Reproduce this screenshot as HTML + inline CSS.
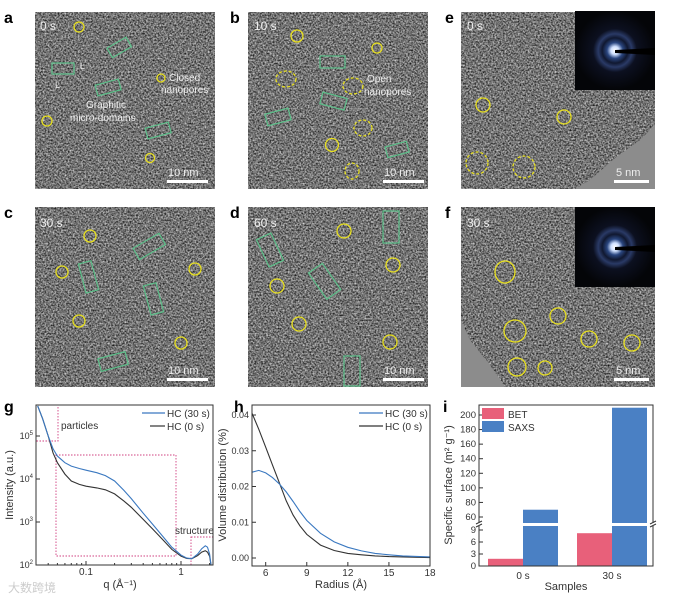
<!DOCTYPE html>
<html><head><meta charset="utf-8">
<style>
html,body{margin:0;padding:0;background:#fff;}
svg{display:block;font-family:"Liberation Sans",sans-serif;}
</style></head>
<body>
<svg id="fig" width="674" height="598" viewBox="0 0 674 598" xmlns="http://www.w3.org/2000/svg">
<defs>
<filter id="tem" x="0" y="0" width="100%" height="100%" color-interpolation-filters="sRGB">
<feTurbulence type="fractalNoise" baseFrequency="0.6" numOctaves="2" seed="7" result="n"/>
<feColorMatrix in="n" type="matrix" values="1.1 0 0 0 -0.1  1.1 0 0 0 -0.1  1.1 0 0 0 -0.1  0 0 0 0 1"/>
</filter>
<radialGradient id="diff" cx="50%" cy="50%" r="50%">
<stop offset="0" stop-color="#fff"/><stop offset="0.1" stop-color="#cfe0ff"/>
<stop offset="0.2" stop-color="#2a4680"/><stop offset="0.32" stop-color="#101830"/>
<stop offset="0.42" stop-color="#2a3a66"/><stop offset="0.55" stop-color="#0c1020"/><stop offset="1" stop-color="#040508"/>
</radialGradient>
</defs>

<!-- TEM panels -->
<g>
<text x="4" y="23" font-size="16" font-weight="bold">a</text>
<rect x="35" y="12" width="180" height="177" fill="#777" filter="url(#tem)"/>
<text x="40" y="30" font-size="12" fill="#eee">0 s</text>
<g fill="none" stroke="#e8e020" stroke-width="1.3">
<circle cx="79" cy="27" r="5"/><circle cx="47" cy="121" r="5"/><circle cx="150" cy="158" r="4.5"/><circle cx="161" cy="78" r="4"/></g>
<g fill="none" stroke="#5cc08a" stroke-width="1.2">
<rect x="108" y="42" width="22" height="11" transform="rotate(-30 119 47)"/>
<rect x="52" y="63" width="22" height="11"/>
<rect x="96" y="82" width="24" height="11" transform="rotate(-15 108 87)"/>
<rect x="146" y="125" width="24" height="11" transform="rotate(-15 158 130)"/></g>
<text x="86" y="108" font-size="10" fill="#eee">Graphitic</text>
<text x="70" y="121" font-size="10" fill="#eee">micro-domains</text>
<text x="169" y="81" font-size="10" fill="#eee">Closed</text>
<text x="161" y="93" font-size="10" fill="#eee">nanopores</text>
<text x="80" y="69" font-size="9" fill="#eee">L</text><text x="55" y="88" font-size="9" fill="#eee">L</text>
<text x="168" y="176" font-size="11" fill="#eee">10 nm</text>
<rect x="167" y="180" width="41" height="3" fill="#fff"/>
</g>
<g>
<text x="230" y="23" font-size="16" font-weight="bold">b</text>
<rect x="248" y="12" width="180" height="177" fill="#777" filter="url(#tem)"/>
<text x="254" y="30" font-size="12" fill="#eee">10 s</text>
<g fill="none" stroke="#e8e020" stroke-width="1.3">
<circle cx="297" cy="36" r="6"/><circle cx="377" cy="48" r="5"/><circle cx="332" cy="145" r="6.5"/></g>
<g fill="none" stroke="#e8e020" stroke-width="1.3" stroke-dasharray="3 2">
<ellipse cx="286" cy="79" rx="10" ry="8"/><ellipse cx="353" cy="86" rx="10" ry="8"/><ellipse cx="363" cy="128" rx="9" ry="8"/><ellipse cx="352" cy="171" rx="7" ry="8"/></g>
<g fill="none" stroke="#5cc08a" stroke-width="1.2">
<rect x="320" y="56" width="25" height="12"/><rect x="321" y="95" width="25" height="12" transform="rotate(15 333 101)"/>
<rect x="266" y="111" width="24" height="12" transform="rotate(-15 278 117)"/><rect x="386" y="144" width="22" height="11" transform="rotate(-15 397 149)"/></g>
<text x="367" y="82" font-size="10" fill="#eee">Open</text>
<text x="364" y="95" font-size="10" fill="#eee">nanopores</text>
<text x="384" y="176" font-size="11" fill="#eee">10 nm</text>
<rect x="383" y="180" width="41" height="3" fill="#fff"/>
</g>
<g>
<text x="445" y="23" font-size="16" font-weight="bold">e</text>
<rect x="461" y="12" width="194" height="177" fill="#777" filter="url(#tem)"/>
<path d="M655 125 L640 140 L615 158 L590 180 L575 189 L655 189 Z" fill="#8c8c8c"/>
<text x="467" y="30" font-size="12" fill="#eee">0 s</text>
<rect x="575" y="11" width="80" height="79" fill="url(#diff)"/>
<path d="M615 50 L655 48 L655 55 L615 53 Z" fill="#000"/>
<g fill="none" stroke="#e8e020" stroke-width="1.3">
<circle cx="483" cy="105" r="7"/><circle cx="564" cy="117" r="7"/></g>
<g fill="none" stroke="#e8e020" stroke-width="1.3" stroke-dasharray="3 2">
<circle cx="477" cy="163" r="11"/><circle cx="524" cy="167" r="11"/></g>
<text x="616" y="176" font-size="11" fill="#eee">5 nm</text>
<rect x="614" y="180" width="35" height="3" fill="#fff"/>
</g>
<g>
<text x="4" y="218" font-size="16" font-weight="bold">c</text>
<rect x="35" y="207" width="180" height="180" fill="#777" filter="url(#tem)"/>
<text x="40" y="227" font-size="12" fill="#eee">30 s</text>
<g fill="none" stroke="#e8e020" stroke-width="1.3">
<circle cx="90" cy="236" r="6"/><circle cx="62" cy="272" r="6"/><circle cx="195" cy="269" r="6"/><circle cx="79" cy="321" r="6"/><circle cx="181" cy="343" r="6"/></g>
<g fill="none" stroke="#5cc08a" stroke-width="1.2">
<rect x="134" y="240" width="30" height="13" transform="rotate(-30 149 246)"/>
<rect x="82" y="262" width="13" height="30" transform="rotate(-15 88 277)"/>
<rect x="147" y="284" width="13" height="30" transform="rotate(-15 153 299)"/>
<rect x="99" y="355" width="28" height="13" transform="rotate(-15 113 361)"/></g>
<text x="168" y="374" font-size="11" fill="#eee">10 nm</text>
<rect x="167" y="378" width="41" height="3" fill="#fff"/>
</g>
<g>
<text x="230" y="218" font-size="16" font-weight="bold">d</text>
<rect x="248" y="207" width="180" height="180" fill="#777" filter="url(#tem)"/>
<text x="254" y="227" font-size="12" fill="#eee">60 s</text>
<g fill="none" stroke="#e8e020" stroke-width="1.3">
<circle cx="344" cy="231" r="7"/><circle cx="393" cy="265" r="7"/><circle cx="277" cy="286" r="7"/><circle cx="299" cy="324" r="7"/><circle cx="390" cy="342" r="7"/></g>
<g fill="none" stroke="#5cc08a" stroke-width="1.2">
<rect x="262" y="235" width="16" height="30" transform="rotate(-25 270 250)"/>
<rect x="383" y="211" width="16" height="32"/>
<rect x="316" y="265" width="17" height="32" transform="rotate(-35 325 281)"/>
<rect x="344" y="356" width="16" height="30"/></g>
<text x="384" y="374" font-size="11" fill="#eee">10 nm</text>
<rect x="383" y="378" width="41" height="3" fill="#fff"/>
</g>
<g>
<text x="445" y="218" font-size="16" font-weight="bold">f</text>
<rect x="461" y="207" width="194" height="180" fill="#777" filter="url(#tem)"/>
<path d="M461 320 L470 340 L490 365 L505 387 L461 387 Z" fill="#8c8c8c"/>
<text x="467" y="227" font-size="12" fill="#eee">30 s</text>
<rect x="575" y="207" width="80" height="80" fill="url(#diff)"/>
<path d="M615 247 L655 245 L655 252 L615 250 Z" fill="#000"/>
<g fill="none" stroke="#e8e020" stroke-width="1.3">
<ellipse cx="505" cy="272" rx="10" ry="11"/><circle cx="558" cy="316" r="8"/><circle cx="515" cy="331" r="11"/><circle cx="589" cy="339" r="8"/><circle cx="632" cy="343" r="8"/><circle cx="517" cy="367" r="9"/><circle cx="545" cy="368" r="7"/></g>
<text x="616" y="374" font-size="11" fill="#eee">5 nm</text>
<rect x="614" y="378" width="35" height="3" fill="#fff"/>
</g>

<g id="chartG"><text x="4" y="412" font-size="16" font-weight="bold">g</text></g>
<g id="chartH"><text x="234" y="412" font-size="16" font-weight="bold">h</text></g>
<g id="chartI"><text x="443" y="412" font-size="16" font-weight="bold">i</text></g>
<text x="8" y="592" font-size="12" fill="#ccc">大数跨境</text>
</svg>
<script>
// ---- chart g data ----
const gQ = [0.031,0.035,0.04,0.045,0.05,0.06,0.07,0.085,0.1,0.13,0.16,0.2,0.25,0.3,0.4,0.5,0.65,0.8,1.0,1.15,1.3,1.5,1.65,1.8,1.9,2.0,2.07];
const gHC30 = [5e5,2.5e5,1e5,5e4,3.4e4,2.4e4,2e4,1.75e4,1.6e4,1.4e4,1.2e4,9e3,5.5e3,3.5e3,1.6e3,900,450,260,170,145,140,180,240,280,260,180,100];
const gHC0 = [5e5,2.5e5,1e5,4e4,2.4e4,1.3e4,9e3,7.5e3,6.8e3,6.2e3,5.6e3,4.5e3,3.1e3,2.2e3,1.15e3,700,380,230,160,142,140,165,200,215,200,160,100];
const gYTicks = [2,3,4,5];
// ---- chart h data ----
const hR = [5,5.5,6,6.5,7,7.5,8,8.5,9,10,11,12,13,14,15,16,18];
const hHC30 = [0.024,0.0245,0.0238,0.0225,0.0207,0.0185,0.0158,0.013,0.0105,0.0069,0.0045,0.003,0.002,0.0013,0.0009,0.0006,0.0003];
const hHC0 = [0.0405,0.036,0.031,0.026,0.021,0.016,0.012,0.009,0.0066,0.0036,0.0021,0.0013,0.0009,0.0006,0.0004,0.0003,0.0001];
const hXTicks = [6,9,12,15,18];
const hYTicks = [0,0.01,0.02,0.03,0.04];
// ---- chart i data ----
const iSamples = ["0 s","30 s"];
const iBET = [1.8,8.2];
const iSAXS = [70,210];
const iLowTicks = [0,3,6,9];
const iHighTicks = [60,80,100,120,140,160,180,200];

const NS="http://www.w3.org/2000/svg";
function mk(parent,tag,attrs,txt){const e=document.createElementNS(NS,tag);for(const k in attrs)e.setAttribute(k,attrs[k]);if(txt!==undefined)e.textContent=txt;parent.appendChild(e);return e;}
function poly(xs,ys,fx,fy){return xs.map((x,i)=>(i?'L':'M')+fx(x).toFixed(1)+' '+fy(ys[i]).toFixed(1)).join(' ');}

// ---- g ----
(function(){
 const G=document.getElementById('chartG');
 const L=36,R=213,T=405,B=565;
 const x=q=>181+95*Math.log10(q);
 const y=v=>565-43*(Math.log10(v)-2);
 const clip=mk(G,'clipPath',{id:'gclip'});mk(clip,'rect',{x:L,y:T,width:R-L,height:B-T});
 let e;
 e=mk(G,'rect',{x:36,y:405,width:22,height:36,fill:'none',stroke:'#d04080','stroke-dasharray':'1.5 1.5','stroke-width':0.9});
 
 e=mk(G,'rect',{x:56,y:455,width:120,height:101,fill:'none',stroke:'#d04080','stroke-dasharray':'1.5 1.5','stroke-width':0.9});
 
 e=mk(G,'rect',{x:191,y:537,width:22,height:28,fill:'none',stroke:'#d04080','stroke-dasharray':'1.5 1.5','stroke-width':0.9});
 
 e=mk(G,'path',{d:poly(gQ,gHC0,x,y),fill:'none',stroke:'#333','stroke-width':1.1,'clip-path':'url(#gclip)'});
 
 e=mk(G,'path',{d:poly(gQ,gHC30,x,y),fill:'none',stroke:'#3a78c0','stroke-width':1.1,'clip-path':'url(#gclip)'});
 
 mk(G,'rect',{x:L,y:T,width:R-L,height:B-T,fill:'none',stroke:'#333','stroke-width':1});
 gYTicks.forEach(p=>{const yy=y(Math.pow(10,p));mk(G,'line',{x1:L,x2:L+4,y1:yy,y2:yy,stroke:'#333'});
  const t=mk(G,'text',{x:L-3,y:yy+3,'font-size':9,'text-anchor':'end',fill:'#333'});
  
  t.textContent='10';mk(t,'tspan',{'font-size':6,dy:-4},String(p));});
 [0.1,1].forEach(q=>{mk(G,'line',{x1:x(q),x2:x(q),y1:B,y2:B-4,stroke:'#333'});
  const t=mk(G,'text',{x:x(q),y:B+10,'font-size':10,'text-anchor':'middle',fill:'#333'},String(q));
  });
 [0.04,0.05,0.06,0.07,0.08,0.09,0.2,0.3,0.4,0.5,0.6,0.7,0.8,0.9,2].forEach(q=>mk(G,'line',{x1:x(q),x2:x(q),y1:B,y2:B-2,stroke:'#333'}));
 e=mk(G,'text',{x:120,y:588,'font-size':11,'text-anchor':'middle',fill:'#333'},'q (Å⁻¹)');
 
 e=mk(G,'text',{x:13,y:485,'font-size':11,'text-anchor':'middle',fill:'#333',transform:'rotate(-90 13 485)'},'Intensity (a.u.)');
 
 mk(G,'text',{x:61,y:429,'font-size':10,fill:'#333'},'particles');
 mk(G,'text',{x:175,y:534,'font-size':10,fill:'#333'},'structure');
 mk(G,'line',{x1:142,x2:165,y1:413,y2:413,stroke:'#3a78c0','stroke-width':1.2});
 e=mk(G,'text',{x:167,y:417,'font-size':10,fill:'#333'},'HC (30 s)');
 mk(G,'line',{x1:150,x2:165,y1:426,y2:426,stroke:'#333','stroke-width':1.2});
 e=mk(G,'text',{x:167,y:430,'font-size':10,fill:'#333'},'HC (0 s)');
})();

// ---- h ----
(function(){
 const H=document.getElementById('chartH');
 const L=252,R=430,T=405,B=566;
 const x=r=>L+(r-5)/13*(R-L);
 const y=v=>558-v*3575;
 let e;
 e=mk(H,'path',{d:poly(hR,hHC0,x,y),fill:'none',stroke:'#333','stroke-width':1.1});
 
 e=mk(H,'path',{d:poly(hR,hHC30,x,y),fill:'none',stroke:'#3a78c0','stroke-width':1.1});
 
 mk(H,'rect',{x:L,y:T,width:R-L,height:B-T,fill:'none',stroke:'#333','stroke-width':1});
 hXTicks.forEach(v=>{mk(H,'line',{x1:x(v),x2:x(v),y1:B,y2:B-4,stroke:'#333'});
  const t=mk(H,'text',{x:x(v),y:B+10,'font-size':10,'text-anchor':'middle',fill:'#333'},String(v));
  });
 hYTicks.forEach(v=>{mk(H,'line',{x1:L,x2:L+4,y1:y(v),y2:y(v),stroke:'#333'});
  const t=mk(H,'text',{x:L-3,y:y(v)+3,'font-size':9,'text-anchor':'end',fill:'#333'},v===0?'0.00':v.toFixed(2));
  });
 e=mk(H,'text',{x:341,y:588,'font-size':11,'text-anchor':'middle',fill:'#333'},'Radius (Å)');
 
 e=mk(H,'text',{x:226,y:485,'font-size':11,'text-anchor':'middle',fill:'#333',transform:'rotate(-90 226 485)'},'Volume distribution (%)');
 
 mk(H,'line',{x1:359,x2:383,y1:413,y2:413,stroke:'#3a78c0','stroke-width':1.2});
 e=mk(H,'text',{x:385,y:417,'font-size':10,fill:'#333'},'HC (30 s)');
 mk(H,'line',{x1:359,x2:383,y1:426,y2:426,stroke:'#333','stroke-width':1.2});
 e=mk(H,'text',{x:385,y:430,'font-size':10,fill:'#333'},'HC (0 s)');
})();

// ---- i ----
(function(){
 const I=document.getElementById('chartI');
 const L=479,R=653,T=405,B=566,BRK=525;
 const yl=v=>566-v*(566-530)/9;
 const yh=v=>517-(v-60)*(517-415)/140;
 const y=v=>v<=10?yl(v):(v>=52?yh(v):BRK);
 const groupX=[488,577],bw=35;
 let e;
 iSamples.forEach((s,i)=>{
  e=mk(I,'rect',{x:groupX[i],y:y(iBET[i]),width:bw,height:B-y(iBET[i]),fill:'#e8607a'});
  
  e=mk(I,'rect',{x:groupX[i]+bw,y:y(iSAXS[i]),width:bw,height:B-y(iSAXS[i]),fill:'#4a80c4'});
  
  const t=mk(I,'text',{x:groupX[i]+bw,y:B+13,'font-size':10,'text-anchor':'middle',fill:'#333'},s);
  
 });
 mk(I,'rect',{x:L,y:BRK-2,width:R-L,height:3,fill:'#fff'});
 mk(I,'rect',{x:L,y:T,width:R-L,height:B-T,fill:'none',stroke:'#333','stroke-width':1});
 mk(I,'rect',{x:L-3,y:BRK-2,width:7,height:3,fill:'#fff'});mk(I,'rect',{x:R-3,y:BRK-2,width:7,height:3,fill:'#fff'});
 [L,R].forEach(xx=>{mk(I,'line',{x1:xx-3,x2:xx+3,y1:BRK-1,y2:BRK-4,stroke:'#333'});mk(I,'line',{x1:xx-3,x2:xx+3,y1:BRK+2,y2:BRK-1,stroke:'#333'});});
 iLowTicks.concat(iHighTicks).forEach(v=>{const yy=y(v);mk(I,'line',{x1:L,x2:L+4,y1:yy,y2:yy,stroke:'#333'});
  const t=mk(I,'text',{x:L-3,y:yy+3,'font-size':9.5,'text-anchor':'end',fill:'#333'},String(v));
  });
 e=mk(I,'text',{x:566,y:590,'font-size':11,'text-anchor':'middle',fill:'#333'},'Samples');
 
 e=mk(I,'text',{x:452,y:485,'font-size':11,'text-anchor':'middle',fill:'#333',transform:'rotate(-90 452 485)'},'Specific surface (m² g⁻¹)');
 
 mk(I,'rect',{x:482,y:408,width:22,height:11,fill:'#e8607a'});
 e=mk(I,'text',{x:508,y:418,'font-size':10,fill:'#333'},'BET');
 mk(I,'rect',{x:482,y:421,width:22,height:11,fill:'#4a80c4'});
 e=mk(I,'text',{x:508,y:431,'font-size':10,fill:'#333'},'SAXS');
})();
</script>
</body></html>
